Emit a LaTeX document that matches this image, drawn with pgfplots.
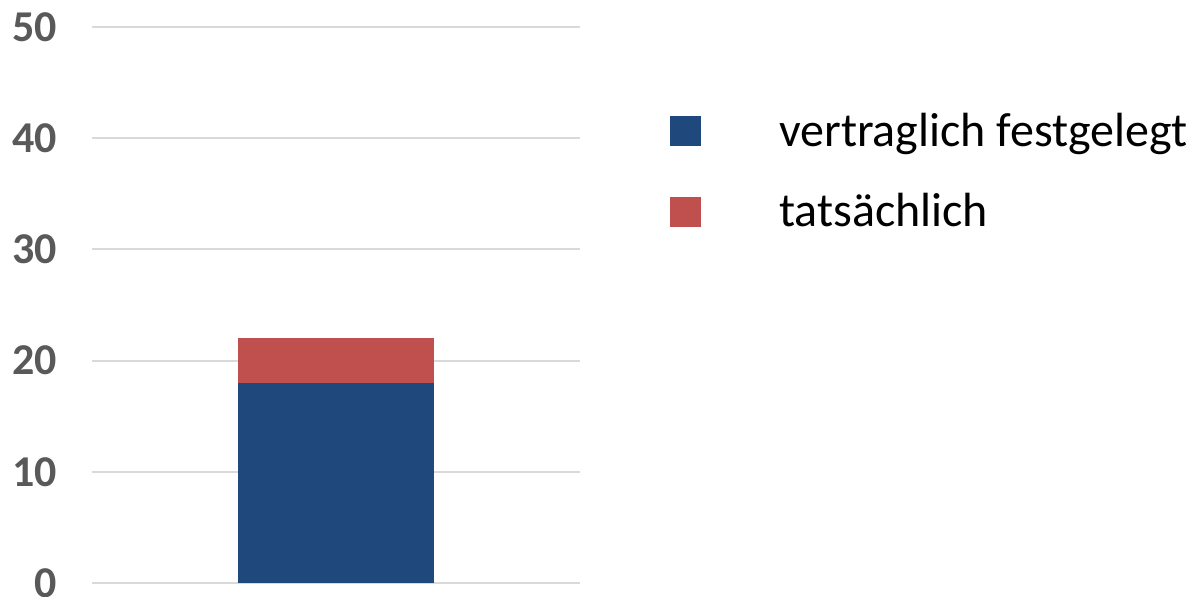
\documentclass[border=0pt]{standalone}
\usepackage{fontspec}
\setmainfont{Carlito}
\usepackage{pgfplots}
\pgfplotsset{compat=1.18}
\definecolor{barblue}{RGB}{31,73,125}
\definecolor{barred}{RGB}{192,80,77}
\definecolor{ticktext}{RGB}{89,89,89}
\definecolor{gridgray}{RGB}{217,217,217}
\begin{document}
\begin{tikzpicture}
\path[use as bounding box] (0,0) rectangle (596.5pt,298pt);
\begin{axis}[
  at={(46pt,6.5pt)}, anchor=south west,
  scale only axis, width=244pt, height=278pt,
  clip=false,
  ybar stacked, bar width=0.8,
  xmin=0, xmax=2, ymin=0, ymax=50,
  ytick={0,10,20,30,40,50},
  xtick=\empty,
  axis line style={draw=none},
  axis x line*=bottom,
  ymajorgrids, grid style={gridgray, line width=1pt},
  major tick length=0pt,
  /pgf/number format/assume math mode=true,
  yticklabel style={font=\fontsize{22pt}{24pt}\selectfont\bfseries, text=ticktext, anchor=east, xshift=-14pt},
  legend style={at={(rel axis cs:1.184,0.846)}, anchor=north west, draw=none, fill=none, inner sep=0pt,
    font=\fontsize{24pt}{28pt}\selectfont, row sep=22pt,
    nodes={inner sep=0pt, anchor=west}},
  legend image code/.code={\fill[#1] (0pt,-7.5pt) rectangle (15.5pt,7.5pt); \path[draw=none,fill=none] (0,0) -- (54.5pt,0);},
  legend cell align=left,
]
\addplot[fill=barblue, draw=none] coordinates {(1,18)};
\addplot[fill=barred, draw=none] coordinates {(1,4)};
\legend{vertraglich festgelegt, tatsächlich}
\end{axis}
\end{tikzpicture}
\end{document}
